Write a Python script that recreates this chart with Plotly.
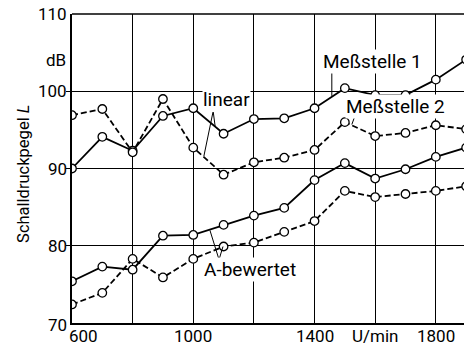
import plotly.graph_objects as go

rpm = [600, 700, 800, 900, 1000, 1100, 1200, 1300, 1400, 1500, 1600, 1700, 1800, 1900]
lin_m1 = [90.0, 94.1, 92.3, 96.8, 97.8, 94.5, 96.4, 96.5, 97.8, 100.4, 99.5, 99.5, 101.5, 104.1]
lin_m2 = [96.9, 97.7, 92.1, 99.0, 92.7, 89.2, 90.8, 91.4, 92.4, 96.0, 94.2, 94.6, 95.6, 95.1]
a_m1 = [75.4, 77.3, 76.9, 81.3, 81.4, 82.7, 83.9, 84.9, 88.5, 90.7, 88.7, 89.9, 91.5, 92.7]
a_m2 = [72.4, 73.9, 78.3, 75.9, 78.3, 79.9, 80.4, 81.8, 83.2, 87.1, 86.3, 86.7, 87.1, 87.7]

x_tick_vals = [600, 1000, 1400, 1600, 1800]
x_tick_text = ["600", "1000", "1400", "U/min", "1800"]
y_tick_vals = [70, 80, 90, 100, 110]
y_tick_text = ["70", "80", "90", "100", "110"]

FONT = "Roboto, 'DejaVu Sans', sans-serif"
fig = go.Figure()

def add(y, dash):
    fig.add_trace(go.Scatter(
        x=rpm, y=y, mode="lines+markers",
        line=dict(color="black", width=1.8, dash=dash),
        marker=dict(symbol="circle", size=8.5, color="white",
                    line=dict(color="black", width=1.3)),
        cliponaxis=True, showlegend=False))

add(lin_m1, "solid")
add(lin_m2, "6px,3px")
add(a_m1, "solid")
add(a_m2, "6px,3px")

# leader lines (data coords)
leaders = [
    (1065, 97.3, 1035, 91.6),
    (1066, 97.3, 1072, 95.5),
    (1457, 103.0, 1457, 99.4),
    (1536, 97.1, 1523, 95.7),
    (1085, 78.2, 1055, 82.0),
    (1085, 78.2, 1098, 79.9),
]
for x0, y0, x1, y1 in leaders:
    fig.add_shape(type="line", x0=x0, y0=y0, x1=x1, y1=y1,
                  line=dict(color="black", width=1), layer="above")

labels = [
    ("Meßstelle 1", 1592, 103.8),
    ("Meßstelle 2", 1668, 98.0),
    ("linear", 1111, 98.9),
    ("A-bewertet", 1187, 76.9),
]
for t, x, y in labels:
    fig.add_annotation(text=t, x=x, y=y, showarrow=False,
                       font=dict(family=FONT, size=19, color="black"),
                       bgcolor="white", borderpad=0)

# x tick labels
for v, t in zip(x_tick_vals, x_tick_text):
    fig.add_annotation(text=t, x=v, y=0, yref="paper", yanchor="top",
                       xanchor="center", showarrow=False, yshift=-1,
                       xshift=11 if v == 600 else 0,
                       font=dict(family=FONT, size=17, color="black"))
# y tick labels
for v, t in zip(y_tick_vals, y_tick_text):
    fig.add_annotation(text=t, x=0, xref="paper", y=v, xanchor="right",
                       yanchor="middle", showarrow=False, xshift=-3,
                       yshift=-2 if v == 70 else 0,
                       font=dict(family=FONT, size=17, color="black"))
fig.add_annotation(text="dB", x=0, xref="paper", y=104.0, xanchor="right",
                   yanchor="middle", showarrow=False, xshift=-4,
                   font=dict(family=FONT, size=17, color="black"))
fig.add_annotation(text="Schalldruckpegel <i>L</i>", x=0, xref="paper", y=89.3,
                   xanchor="center", yanchor="middle", showarrow=False,
                   xshift=-48, textangle=-90,
                   font=dict(family=FONT, size=16.5, color="black"))

fig.update_layout(
    width=464, height=346,
    margin=dict(l=72, r=0, t=14, b=23),
    plot_bgcolor="white", paper_bgcolor="white",
    xaxis=dict(range=[600, 1893], tickvals=[800, 1000, 1200, 1400, 1600, 1800],
               showticklabels=False, showgrid=True, gridcolor="black", gridwidth=1.3,
               zeroline=False, showline=True, linecolor="black", linewidth=1.5,
               mirror=False, ticks=""),
    yaxis=dict(range=[70, 110], tickvals=[80, 90, 100],
               showticklabels=False, showgrid=True, gridcolor="black", gridwidth=1.3,
               zeroline=False, showline=True, linecolor="black", linewidth=1.5,
               mirror=False, ticks="outside", ticklen=4, tickcolor="black"),
)
fig.add_shape(type="line", xref="paper", yref="paper", x0=0, x1=1, y0=1, y1=1,
              line=dict(color="black", width=1.5))

fig.write_html("out.html")
